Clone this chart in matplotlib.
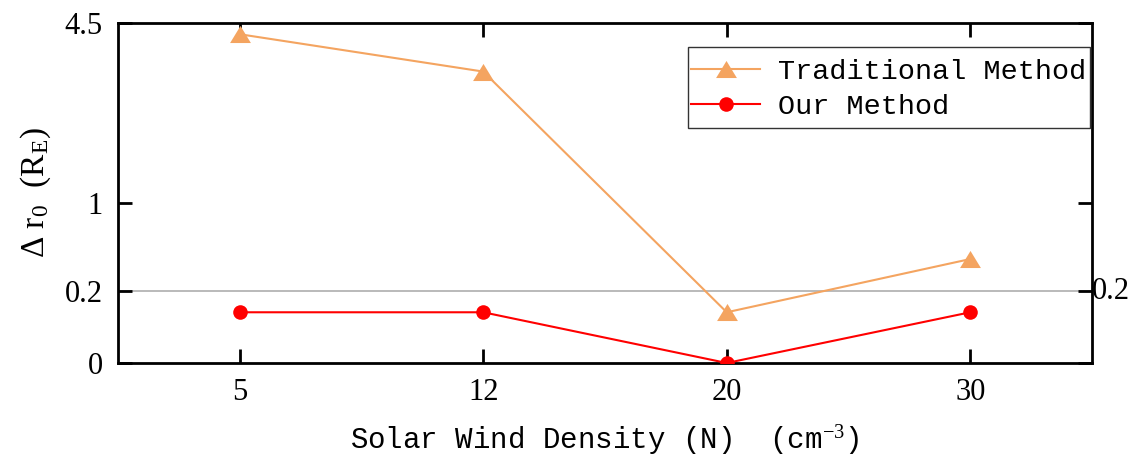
import numpy as np
import matplotlib
matplotlib.use("Agg")
import matplotlib.pyplot as plt
from matplotlib.path import Path
from matplotlib.patches import Rectangle
from matplotlib.ticker import NullLocator

# Data
densities = ["5", "12", "20", "30"]
traditional = [4.2, 3.3, 0.1, 0.42]
ours = [0.1, 0.1, 0.0, 0.1]
y_ticks = [0, 0.2, 1, 4.5]
y_ticklabels = ["0", "0.2", "1", "4.5"]

plt.rcParams["font.family"] = ["Liberation Mono", "DejaVu Sans"]
plt.rcParams["mathtext.fontset"] = "custom"
plt.rcParams["mathtext.rm"] = "Liberation Serif"
plt.rcParams["mathtext.it"] = "Liberation Serif:italic"
plt.rcParams["mathtext.bf"] = "Liberation Serif:bold"

SERIF = ["Liberation Serif", "DejaVu Serif"]

fig = plt.figure(figsize=(11.46, 4.61), dpi=100)
ax = fig.add_axes([118 / 1146, (461 - 363) / 461, 974 / 1146, 340.3 / 461])

ax.set_yscale("function",
              functions=(lambda y: np.sqrt(np.clip(y, 0, None)), lambda y: np.square(y)))

x = np.arange(len(densities))

# wide, slightly squat triangle marker
tri = Path([(0, 0.82), (-1, -0.82), (1, -0.82), (0, 0.82)],
           [Path.MOVETO, Path.LINETO, Path.LINETO, Path.CLOSEPOLY])

ax.axhline(0.2, color="#b4b4b4", lw=1.3, zorder=1)
ax.plot(x, traditional, color="#f4a460", lw=1.5, marker=tri, ms=15,
        markeredgewidth=0, label="Traditional Method", zorder=3)
ax.plot(x, ours, color="#ff0000", lw=1.5, marker="o", ms=10.5,
        markeredgewidth=0, label="Our Method", zorder=4)

ax.set_xlim(-0.5, 3.5)
ax.set_ylim(0, 4.5)
ax.set_xticks(x)
ax.set_xticklabels(densities, family=SERIF, fontsize=22)
ax.set_yticks(y_ticks)
ax.set_yticklabels(y_ticklabels, family=SERIF, fontsize=22)
ax.yaxis.set_minor_locator(NullLocator())
ax.xaxis.set_minor_locator(NullLocator())

ax.tick_params(direction="in", length=10, width=2, top=True, right=True, pad=11)
for s in ax.spines.values():
    s.set_linewidth(2)

ax.text(1.0, 0.2, "0.2", transform=ax.get_yaxis_transform(),
        ha="left", va="center", fontsize=22, family=SERIF)

ax.set_xlabel("Solar Wind Density (N)  (cm$^{-3}$)", fontsize=21, labelpad=12)
ax.set_ylabel("Δ r$_0$  (R$_\\mathrm{E}$)", fontsize=24, labelpad=8,
              family=SERIF)

# legend entries without their own frame; a taller box is drawn around them
leg = ax.legend(loc="upper right", bbox_to_anchor=(0.998, 0.906),
                borderaxespad=0, fontsize=20.5, frameon=False,
                handlelength=2.45, handletextpad=0.6,
                labelspacing=0.3, borderpad=0.15)
ax.add_patch(Rectangle((0.585, 0.6906), 0.998 - 0.585, 0.9286 - 0.6906,
                       transform=ax.transAxes, fill=False,
                       edgecolor="#333333", lw=1.0, zorder=5))

fig.savefig("out.png", dpi=100)
